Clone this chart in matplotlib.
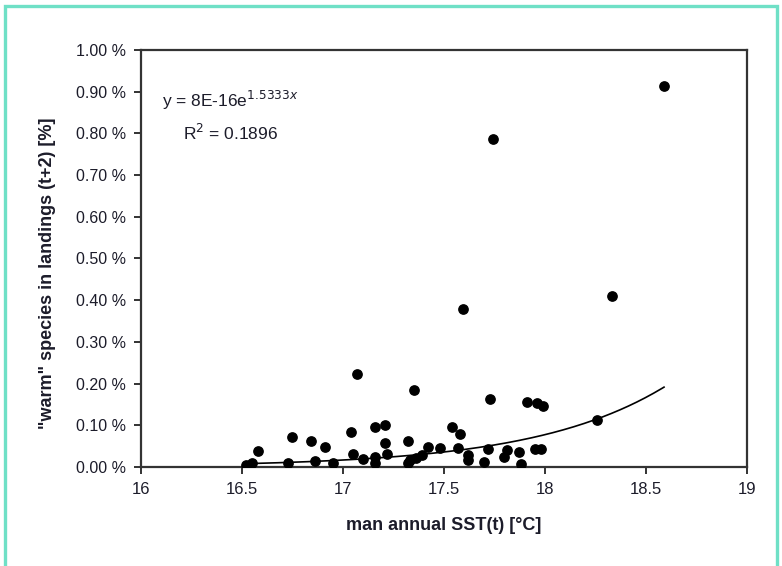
import numpy as np
import matplotlib.pyplot as plt
from matplotlib.patches import Rectangle
from matplotlib.ticker import FuncFormatter

plt.rcParams['font.family'] = ['Liberation Sans', 'DejaVu Sans']

# mean annual SST (t) and share of "warm" species in landings (t+2), in %
sst = [16.52, 16.55, 16.58, 16.73, 16.75, 16.84, 16.86, 16.91, 16.95,
       17.04, 17.05, 17.07, 17.10, 17.16, 17.16, 17.16, 17.21, 17.21,
       17.22, 17.32, 17.32, 17.33, 17.35, 17.36, 17.39, 17.42, 17.48,
       17.54, 17.57, 17.58, 17.594, 17.62, 17.62, 17.70, 17.72, 17.73,
       17.743, 17.80, 17.81, 17.87, 17.88, 17.91, 17.96, 17.99, 17.95,
       17.98, 18.256, 18.33, 18.59]
warm_pct = [0.005, 0.010, 0.038, 0.009, 0.073, 0.062, 0.015, 0.049, 0.009,
            0.085, 0.032, 0.223, 0.020, 0.095, 0.025, 0.009, 0.101, 0.057,
            0.030, 0.062, 0.009, 0.017, 0.185, 0.021, 0.029, 0.049, 0.045,
            0.097, 0.045, 0.080, 0.379, 0.029, 0.018, 0.012, 0.044, 0.163,
            0.787, 0.025, 0.040, 0.037, 0.008, 0.157, 0.153, 0.147, 0.044,
            0.044, 0.113, 0.410, 0.914]

# exponential trend y = a * exp(b * x), y as a fraction
fit_a = 8e-16
fit_b = 1.5333
r2 = 0.1896

x_ticks = [16, 16.5, 17, 17.5, 18, 18.5, 19]
y_ticks = [0.0, 0.1, 0.2, 0.3, 0.4, 0.5, 0.6, 0.7, 0.8, 0.9, 1.0]

fig = plt.figure(figsize=(7.82, 5.66), dpi=100)
ax = fig.add_axes([0.1803, 0.1749, 0.7747, 0.7368])

ax.scatter(sst, warm_pct, s=45, color='black', marker='o', zorder=3)

xs = np.linspace(min(sst), max(sst), 200)
ax.plot(xs, 100 * fit_a * np.exp(fit_b * xs), color='black', lw=1.2, zorder=2)

ax.set_xlim(16, 19)
ax.set_ylim(0, 1.0)
ax.set_xticks(x_ticks)
ax.set_xticklabels([f'{t:g}' for t in x_ticks])
ax.set_yticks(y_ticks)
ax.yaxis.set_major_formatter(FuncFormatter(lambda v, p: f'{v:.2f} %'))

txt = '#1c1c2a'
for s in ax.spines.values():
    s.set_color('#333333')
    s.set_linewidth(1.6)
ax.tick_params(direction='out', length=5, width=1.4, color='#333333',
               labelsize=12, labelcolor=txt, pad=6)
ax.tick_params(axis='y', labelsize=11.5)

ax.set_xlabel('man annual SST(t) [°C]', fontsize=13, fontweight='bold',
              color=txt, labelpad=14)
ax.set_ylabel('"warm" species in landings (t+2) [%]', fontsize=13,
              fontweight='bold', color=txt)
ax.yaxis.set_label_coords(-0.141, 0.465)

ax.text(0.035, 0.878, f'y = 8E-16e$^{{{fit_b:.4f}x}}$', transform=ax.transAxes,
        fontsize=12.5, color=txt, va='center')
ax.text(0.069, 0.80, f'R$^2$ = {r2:.4f}', transform=ax.transAxes,
        fontsize=12.5, color=txt, va='center')

# teal frame around the whole figure
fig.patches.append(Rectangle((5 / 782, -0.02), 772 / 782, 1 - 6 / 566 + 0.02,
                             transform=fig.transFigure, fill=False,
                             edgecolor='#6fe0c6', linewidth=2.4))

fig.savefig('out.png', dpi=100)
